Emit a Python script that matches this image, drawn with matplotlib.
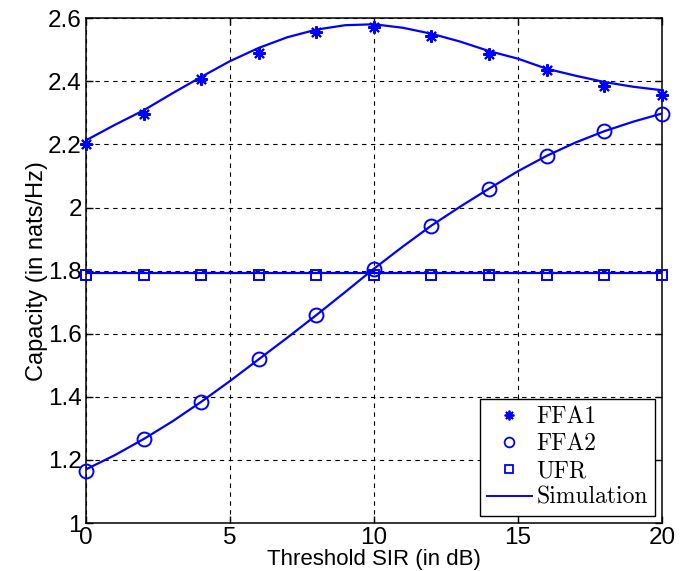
import matplotlib
matplotlib.use("Agg")
import matplotlib.pyplot as plt
from matplotlib.lines import Line2D
from matplotlib.font_manager import FontProperties

# Analytical points (every 2 dB)
sir_pts = [0, 2, 4, 6, 8, 10, 12, 14, 16, 18, 20]
ffa1_pts = [2.203, 2.297, 2.407, 2.491, 2.556, 2.572, 2.543, 2.488, 2.435, 2.385, 2.356]
ffa2_pts = [1.164, 1.266, 1.384, 1.519, 1.659, 1.806, 1.943, 2.060, 2.164, 2.242, 2.295]
ufr_pts = [1.785] * 11

# Simulation curves (every 1 dB)
sir_sim = list(range(0, 21))
ffa1_sim = [2.213, 2.262, 2.308, 2.362, 2.414, 2.464, 2.506, 2.540, 2.564, 2.578, 2.581,
            2.570, 2.551, 2.526, 2.496, 2.472, 2.440, 2.418, 2.398, 2.383, 2.372]
ffa2_sim = [1.170, 1.215, 1.266, 1.322, 1.384, 1.450, 1.519, 1.588, 1.659, 1.732, 1.806,
            1.876, 1.943, 2.003, 2.060, 2.115, 2.164, 2.206, 2.242, 2.272, 2.298]
ufr_sim = [1.793] * 21

legend_labels = ["FFA1", "FFA2", "UFR", "Simulation"]

blue = "#0000ff"
tick_font = "Liberation Sans"

fig = plt.figure(figsize=(6.93, 5.71), dpi=100)
ax = fig.add_axes([0.124, 0.084, 0.831, 0.884])

lw = 1.6
ax.plot(sir_sim, ffa1_sim, color=blue, lw=lw, zorder=3)
ax.plot(sir_sim, ffa2_sim, color=blue, lw=lw, zorder=3)
ax.plot(sir_sim, ufr_sim, color=blue, lw=lw, zorder=3)

ax.plot(sir_pts, ffa1_pts, linestyle="none", marker=(8, 2, 0), ms=9, mew=1.5,
        color=blue, zorder=4, clip_on=False)
ax.plot(sir_pts, ffa2_pts, linestyle="none", marker="o", ms=10, mew=1.4,
        mfc="none", mec=blue, zorder=4, clip_on=False)
ax.plot(sir_pts, ufr_pts, linestyle="none", marker="s", ms=7.5, mew=1.4,
        mfc="none", mec=blue, zorder=4, clip_on=False)

ax.set_xlim(0, 20)
ax.set_ylim(1, 2.6)
ax.set_xticks([0, 5, 10, 15, 20])
ax.set_yticks([1, 1.2, 1.4, 1.6, 1.8, 2, 2.2, 2.4, 2.6])
ax.set_xticklabels(["0", "5", "10", "15", "20"])
ax.set_yticklabels(["1", "1.2", "1.4", "1.6", "1.8", "2", "2.2", "2.4", "2.6"])

ax.grid(True, color="black", linestyle=(0, (4, 4)), linewidth=0.8)
ax.set_axisbelow(True)

ax.tick_params(direction="in", length=5, width=1, top=True, right=True,
               labelsize=17.5)
ax.tick_params(axis="x", pad=3)
ax.tick_params(axis="y", pad=3)
for lab in ax.get_xticklabels() + ax.get_yticklabels():
    lab.set_family(tick_font)
for sp in ax.spines.values():
    sp.set_linewidth(1.1)
    sp.set_color("black")

ax.set_xlabel("Threshold SIR (in dB)", fontsize=16, family=tick_font, labelpad=0)
ax.set_ylabel("Capacity (in nats/Hz)", fontsize=17, family=tick_font, labelpad=0)

handles = [
    Line2D([], [], linestyle="none", marker=(8, 2, 0), ms=7, mew=1.3, color=blue),
    Line2D([], [], linestyle="none", marker="o", ms=7, mew=1.3, mfc="none", mec=blue),
    Line2D([], [], linestyle="none", marker="s", ms=6, mew=1.3, mfc="none", mec=blue),
    Line2D([], [], color=blue, lw=1.4),
]
leg = ax.legend(handles, legend_labels, loc="lower right",
                prop=FontProperties(family="cmr10", size=17),
                frameon=True, fancybox=False, edgecolor="black", framealpha=1,
                borderpad=0.3, labelspacing=0.2, handlelength=1.9,
                handletextpad=0.2, borderaxespad=0.3)
leg.get_frame().set_linewidth(1.0)

fig.savefig("out.png", dpi=100)
